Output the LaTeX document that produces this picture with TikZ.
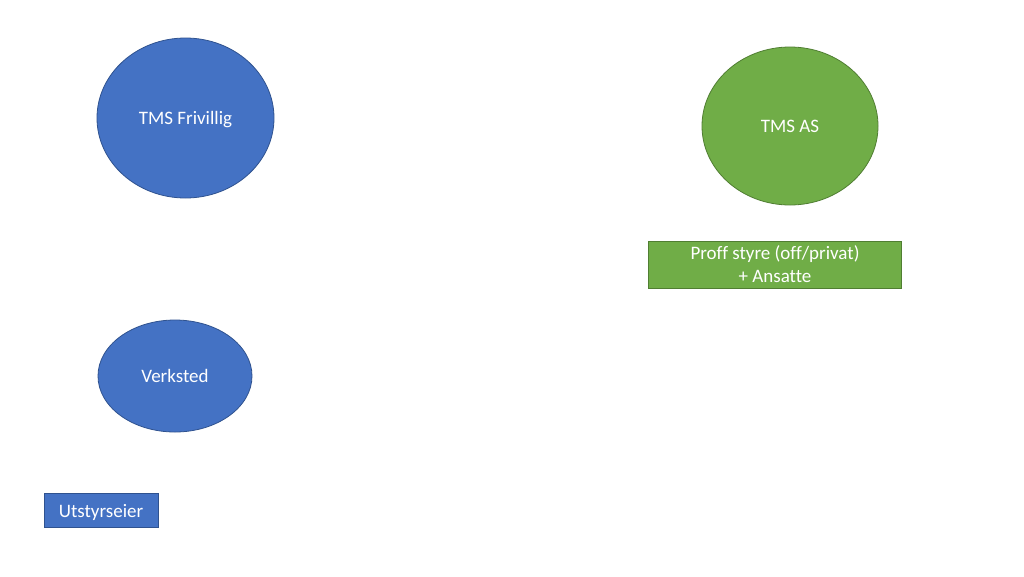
\documentclass[tikz,border=0pt]{standalone}
\usepackage{fontspec}
\setmainfont[Ligatures=CommonOff]{Carlito}
\usetikzlibrary{shapes.geometric}
\definecolor{bluefill}{HTML}{4472C4}
\definecolor{blueline}{HTML}{2F528F}
\definecolor{greenfill}{HTML}{70AD47}
\definecolor{greenline}{HTML}{507E32}
\tikzset{
  x=1pt, y=-1pt,
  lbl/.style={text=white, font=\fontsize{19}{23}\selectfont, inner sep=0pt, align=center, text depth=0pt},
  blueell/.style={ellipse, fill=bluefill, draw=blueline, line width=0.8pt, lbl},
  greenell/.style={ellipse, fill=greenfill, draw=greenline, line width=0.8pt, lbl},
  bluebox/.style={rectangle, fill=bluefill, draw=blueline, line width=0.8pt, lbl},
  greenbox/.style={rectangle, fill=greenfill, draw=greenline, line width=0.8pt, lbl},
}
\begin{document}
\begin{tikzpicture}
\useasboundingbox[fill=white] (0,0) rectangle (1024,576);
\node[blueell, minimum width=177pt, minimum height=160pt] (frivillig) at (185.5,118) {TMS Frivillig};
\node[greenell, minimum width=176pt, minimum height=158pt] (tmsas) at (790,126) {TMS AS};
\node[greenbox, minimum width=253pt, minimum height=47pt] (proff) at (775,264.5) {Proff styre (off/privat)\\+ Ansatte};
\node[blueell, minimum width=154pt, minimum height=112pt] (verksted) at (175,376) {Verksted};
\node[bluebox, minimum width=114pt, minimum height=34pt] (utstyr) at (101,510.5) {Utstyrseier};
\end{tikzpicture}
\end{document}
